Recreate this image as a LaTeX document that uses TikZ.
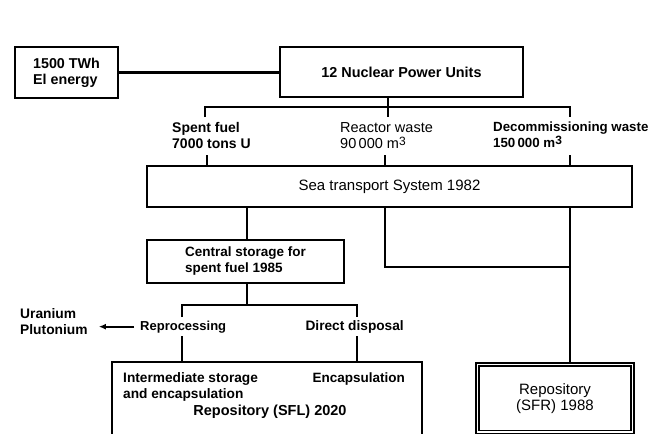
\documentclass[tikz,border=0pt]{standalone}
\usepackage{fontspec}
\setmainfont{Liberation Sans}
\usetikzlibrary{arrows.meta}
\newcommand{\fsz}[1]{\fontsize{#1}{16}\selectfont}
\begin{document}
\begin{tikzpicture}[x=1pt,y=-1pt,
 boxb/.style={draw, line width=2.8pt, inner sep=0pt, font=\bfseries\fsz{14}, align=center},
 lbl/.style={inner sep=0pt, font=\bfseries\fsz{14}, align=left},
 lblr/.style={inner sep=0pt, font=\fsz{14.5}, align=left},
 conn/.style={line width=2.4pt},
]
\useasboundingbox (0,0) rectangle (657,434);
\clip (0,0) rectangle (657,434);

% boxes
\node[boxb, minimum width=103pt, minimum height=51pt, align=left, font=\bfseries\fsz{14.3}] (el) at (66.5,72.5) {1500 TWh\\El energy};
\node[boxb, minimum width=243pt, minimum height=50pt, font=\bfseries\fsz{14.4}] (npu) at (401.5,72) {12 Nuclear Power Units};
\node[boxb, minimum width=485pt, minimum height=41pt, font=\fsz{15}] (sea) at (389.5,186.5) {Sea transport System 1982};
\node[boxb, minimum width=197pt, minimum height=43pt, align=left, font=\bfseries\fsz{13.5}] (cs) at (245.5,261.5) {Central storage for\\spent fuel 1985};
\node[boxb, minimum width=310pt, minimum height=90pt] (sfl) at (267,407) {};
\node[draw, line width=1.6pt, double, double distance=1.8pt, inner sep=0pt, minimum width=155pt, minimum height=67.5pt, align=center, font=\fsz{15}] (sfr) at (555,398.25) {Repository\\(SFR) 1988};

% labels
\node[lbl, anchor=north west] (spent) at (172,122) {Spent fuel\\7000 tons U};
\node[lblr, anchor=north west] (react) at (340,122) {Reactor waste\\90\,000 m\raisebox{3pt}{\fsz{12}3}};
\node[lbl, anchor=north west, font=\bfseries\fsz{13.3}] (decom) at (493,122) {Decommissioning waste\\150\,000 m\raisebox{3pt}{\fsz{12}3}};
\node[lbl, anchor=north west, font=\bfseries\fsz{13.8}] (uran) at (20,308) {Uranium\\Plutonium};
\node[lbl, anchor=base west, font=\bfseries\fsz{13}] (reproc) at (140,330) {Reprocessing};
\node[lbl, anchor=base east, font=\bfseries\fsz{13.7}] (direct) at (404,330) {Direct disposal};
\node[lbl, anchor=north west, font=\bfseries\fsz{13.7}] (inter) at (123,372) {Intermediate storage\\and encapsulation};
\node[lbl, anchor=base east, font=\bfseries\fsz{13.5}] (encap) at (405,382) {Encapsulation};
\node[lbl, anchor=base, font=\bfseries\fsz{14.5}] (sfltxt) at (270,415) {Repository (SFL) 2020};

% connectors
\draw[conn] (el.east) -- (el.east -| npu.west);

\coordinate (bL) at (205,107);
\coordinate (bM) at (388,107);
\coordinate (bR) at (570,107);
\coordinate (tL) at (205,117);
\coordinate (tM) at (388,117);
\coordinate (tR) at (570,117);
\draw[conn] (npu.south -| bM) -- (tM);
\draw[conn] (tL) -- (bL) -- (bR) -- (tR);

\coordinate (uL) at (207,155);
\coordinate (uM) at (385,155);
\coordinate (uR) at (570,155);
\draw[conn] (uL) -- (uL |- sea.north);
\draw[conn] (uM) -- (uM |- sea.north);
\draw[conn] (uR) -- (uR |- sea.north);

\coordinate (c1) at (247,225);
\draw[conn] (sea.south -| c1) -- (cs.north -| c1);
\coordinate (jn) at (570,267);
\draw[conn] (sea.south -| uM) |- (jn);
\draw[conn] (sea.south -| uR) -- (sfr.north -| uR);

\coordinate (sL) at (182,305);
\coordinate (sR) at (357,305);
\coordinate (kL) at (182,317);
\coordinate (kR) at (357,317);
\draw[conn] (cs.south -| c1) -- (c1 |- sL);
\draw[conn] (kL) -- (sL) -- (sR) -- (kR);
\coordinate (dL) at (182,336);
\coordinate (dR) at (357,336);
\draw[conn] (dL) -- (sfl.north -| dL);
\draw[conn] (dR) -- (sfl.north -| dR);

\draw[line width=1.8pt, -{Latex[length=7pt,width=6pt]}, shorten <=6pt, shorten >=11pt] (reproc.west) -- (uran.east |- reproc.west);
\end{tikzpicture}
\end{document}
